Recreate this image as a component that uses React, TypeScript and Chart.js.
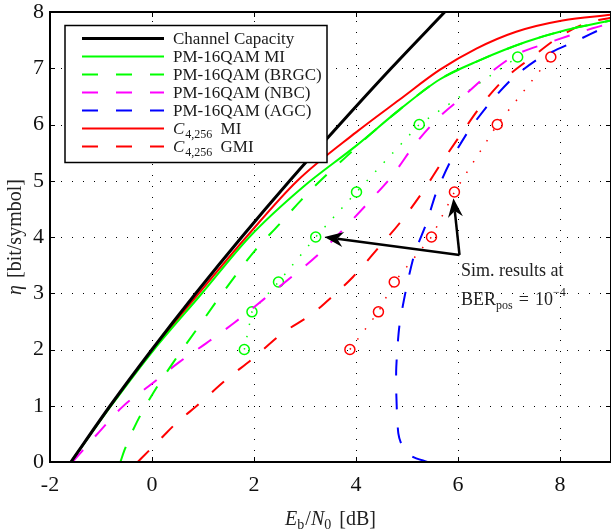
import React, { useEffect, useRef } from 'react';
import { Chart, registerables } from 'chart.js';
Chart.register(...registerables);

const xTicks = [-2, 0, 2, 4, 6, 8];
const xMax = 9;
const yTicks = [0, 1, 2, 3, 4, 5, 6, 7, 8];

const capacityX = [-1.59, -0.82, 0, 0.86, 1.76, 2.7, 3.68, 4.69, 5.74];
const capacityY = [0, 1, 2, 3, 4, 5, 6, 7, 8];

const qamMiX = [-1.59, -0.8, 0.04, 0.98, 1.91, 2.95, 4.0, 4.85, 5.64, 6.42, 7.34, 8.12, 9.0];
const qamMiY = [0, 1.0, 2.0, 3.0, 4.0, 4.88, 5.62, 6.26, 6.8, 7.14, 7.47, 7.68, 7.85];

const brgcX = [-0.62, -0.54, -0.34, -0.02, 0.47, 0.87, 1.26, 1.6, 2.01, 2.5, 2.93, 3.3, 3.8, 4.3, 4.85, 5.64, 6.42, 7.34, 8.12, 9.0];
const brgcY = [0, 0.21, 0.63, 1.16, 1.84, 2.35, 2.85, 3.27, 3.75, 4.23, 4.66, 5.0, 5.42, 5.84, 6.26, 6.8, 7.14, 7.47, 7.68, 7.85];

const nbcX = [-1.56, -1.03, -0.58, 0.01, 0.54, 1.06, 1.62, 2.2, 2.75, 3.25, 3.87, 4.32, 4.72, 5.15, 5.64, 6.09, 6.62, 7.14, 7.73, 8.64, 9.0];
const nbcY = [0, 0.54, 0.98, 1.4, 1.78, 2.11, 2.48, 2.9, 3.3, 3.68, 4.25, 4.69, 5.1, 5.64, 6.14, 6.49, 6.91, 7.24, 7.44, 7.71, 7.8];

const agcX = [5.4, 5.1, 4.92, 4.83, 4.79, 4.79, 4.85, 4.98, 5.15, 5.38, 5.57, 5.85, 6.21, 6.62, 7.07, 7.6, 8.35, 8.84, 9.0];
const agcY = [0, 0.1, 0.26, 0.51, 1.22, 1.69, 2.41, 3.06, 3.71, 4.24, 4.78, 5.34, 5.89, 6.38, 6.82, 7.18, 7.5, 7.71, 7.76];

const c4MiX = [-1.59, -0.81, 0.02, 0.92, 1.85, 2.85, 4.0, 4.85, 5.64, 6.36, 7.14, 8.05, 9.0];
const c4MiY = [0, 1, 2, 3, 4, 5, 5.86, 6.44, 6.97, 7.35, 7.65, 7.85, 7.95];

const c4GmiX = [-0.28, -0.05, 0.21, 0.44, 0.93, 1.45, 1.98, 2.56, 3.15, 3.42, 3.94, 4.46, 4.85, 5.29, 5.67, 6.06, 6.45, 6.89, 7.47, 7.99, 8.51, 9.0];
const c4GmiY = [0, 0.21, 0.45, 0.66, 1.04, 1.46, 1.84, 2.29, 2.64, 2.85, 3.29, 3.83, 4.24, 4.78, 5.31, 5.83, 6.33, 6.79, 7.21, 7.56, 7.8, 7.9];

const simRates = [2, 2.67, 3.2, 4, 4.8, 6, 7.2];
const simQamX = [1.81, 1.96, 2.48, 3.21, 4.01, 5.24, 7.17];
const simC4X = [3.88, 4.44, 4.75, 5.48, 5.93, 6.77, 7.82];

// annotation anchors (data coordinates)
const arrowFrom = { x: 6.03, y: 3.68 };
const arrowTips = [{ x: 3.38, y: 4.0 }, { x: 5.91, y: 4.69 }];
const noteAt = { x: 6.06, y1: 3.31, y2: 2.79 };

const SERIF = '"Liberation Serif", "Times New Roman", serif';
const GREEN = '#00ff00';
const MAGENTA = '#ff00ff';
const BLUE = '#0000ff';
const RED = '#ff0000';
const DASH = [16, 18];
const DOT = [1.5, 11];

const toPts = (xs: number[], ys: number[]) => xs.map((x, i) => ({ x, y: ys[i] }));

type Part = { t: string; size: number; italic?: boolean; dy?: number; dx?: number };
const fontOf = (p: Part) => `${p.italic ? 'italic ' : ''}${p.size}px ${SERIF}`;
function partsWidth(ctx: CanvasRenderingContext2D, parts: Part[]) {
  let w = 0;
  for (const p of parts) {
    ctx.font = fontOf(p);
    w += ctx.measureText(p.t).width + (p.dx || 0);
  }
  return w;
}
function drawParts(ctx: CanvasRenderingContext2D, parts: Part[], x: number, y: number) {
  let cx = x;
  ctx.textBaseline = 'alphabetic';
  ctx.textAlign = 'left';
  for (const p of parts) {
    ctx.font = fontOf(p);
    cx += p.dx || 0;
    ctx.fillText(p.t, cx, y + (p.dy || 0));
    cx += ctx.measureText(p.t).width;
  }
}

const legendItems: { ds: number; parts: Part[] }[] = [
  { ds: 0, parts: [{ t: 'Channel Capacity', size: 17 }] },
  { ds: 1, parts: [{ t: 'PM-16QAM MI', size: 17 }] },
  { ds: 2, parts: [{ t: 'PM-16QAM (BRGC)', size: 17 }] },
  { ds: 3, parts: [{ t: 'PM-16QAM (NBC)', size: 17 }] },
  { ds: 4, parts: [{ t: 'PM-16QAM (AGC)', size: 17 }] },
  { ds: 5, parts: [{ t: 'C', size: 17, italic: true }, { t: '4,256', size: 12, dy: 4, dx: 1 }, { t: ' MI', size: 17, dx: 4 }] },
  { ds: 6, parts: [{ t: 'C', size: 17, italic: true }, { t: '4,256', size: 12, dy: 4, dx: 1 }, { t: ' GMI', size: 17, dx: 4 }] },
];

function drawArrow(ctx: CanvasRenderingContext2D, x0: number, y0: number, x1: number, y1: number) {
  const ang = Math.atan2(y1 - y0, x1 - x0);
  const L = 19, W = 7.5, N = 13;
  const ux = Math.cos(ang), uy = Math.sin(ang);
  const px = -uy, py = ux;
  ctx.beginPath();
  ctx.moveTo(x0, y0);
  ctx.lineTo(x1 - ux * N, y1 - uy * N);
  ctx.stroke();
  ctx.beginPath();
  ctx.moveTo(x1, y1);
  ctx.lineTo(x1 - ux * L + px * W, y1 - uy * L + py * W);
  ctx.lineTo(x1 - ux * N, y1 - uy * N);
  ctx.lineTo(x1 - ux * L - px * W, y1 - uy * L - py * W);
  ctx.closePath();
  ctx.fill();
}

const decor = {
  id: 'decor',
  beforeDatasetsDraw(chart: any) {
    const { ctx, chartArea: a, scales } = chart;
    const x = scales.x, y = scales.y;
    ctx.save();
    ctx.strokeStyle = '#000';
    ctx.lineWidth = 1;
    ctx.setLineDash([1, 10]);
    xTicks.forEach((v) => {
      if (v === -2) return;
      const px = Math.round(x.getPixelForValue(v)) + 0.5;
      ctx.beginPath();
      ctx.moveTo(px, a.bottom);
      ctx.lineTo(px, a.top);
      ctx.stroke();
    });
    yTicks.forEach((v) => {
      if (v === 0 || v === 8) return;
      const py = Math.round(y.getPixelForValue(v)) + 0.5;
      ctx.beginPath();
      ctx.moveTo(a.left, py);
      ctx.lineTo(a.right, py);
      ctx.stroke();
    });
    ctx.restore();
  },
  afterDatasetsDraw(chart: any) {
    const { ctx, chartArea: a, scales } = chart;
    const x = scales.x, y = scales.y;
    ctx.save();
    ctx.strokeStyle = '#000';
    ctx.lineWidth = 1;
    ctx.setLineDash([]);
    xTicks.forEach((v) => {
      const px = Math.round(x.getPixelForValue(v)) + 0.5;
      ctx.beginPath();
      ctx.moveTo(px, a.bottom); ctx.lineTo(px, a.bottom - 5);
      ctx.moveTo(px, a.top); ctx.lineTo(px, a.top + 5);
      ctx.stroke();
    });
    yTicks.forEach((v) => {
      const py = Math.round(y.getPixelForValue(v)) + 0.5;
      ctx.beginPath();
      ctx.moveTo(a.left, py); ctx.lineTo(a.left + 5, py);
      ctx.moveTo(a.right, py); ctx.lineTo(a.right - 5, py);
      ctx.stroke();
    });
    ctx.lineWidth = 2;
    ctx.strokeRect(a.left, a.top, a.right - a.left, a.bottom - a.top);

    // tick labels
    ctx.fillStyle = '#111';
    ctx.font = `22px ${SERIF}`;
    ctx.textAlign = 'center';
    ctx.textBaseline = 'middle';
    xTicks.forEach((v) => {
      ctx.fillText(String(v), x.getPixelForValue(v), a.bottom + 23);
    });
    ctx.textAlign = 'right';
    yTicks.forEach((v) => {
      ctx.fillText(String(v), a.left - 6, y.getPixelForValue(v));
    });

    // legend
    const lx = a.left + 15, ly = a.top + 13.5, lw = 262, lh = 137;
    ctx.fillStyle = '#fff';
    ctx.fillRect(lx, ly, lw, lh);
    ctx.lineWidth = 1.5;
    ctx.strokeStyle = '#000';
    ctx.strokeRect(lx, ly, lw, lh);
    legendItems.forEach((it, i) => {
      const ds = chart.data.datasets[it.ds];
      const yc = ly + 13 + 18 * i;
      ctx.save();
      ctx.strokeStyle = ds.borderColor;
      ctx.lineWidth = ds.borderWidth;
      ctx.setLineDash(ds.borderDash || []);
      ctx.beginPath();
      ctx.moveTo(lx + 17, yc);
      ctx.lineTo(lx + 99, yc);
      ctx.stroke();
      ctx.restore();
      ctx.fillStyle = '#1a1a1a';
      drawParts(ctx, it.parts, lx + 108, yc + 5.5);
    });

    // arrows
    const ox = x.getPixelForValue(arrowFrom.x), oy = y.getPixelForValue(arrowFrom.y);
    ctx.strokeStyle = '#000';
    ctx.fillStyle = '#000';
    ctx.lineWidth = 2.5;
    arrowTips.forEach((t) => {
      drawArrow(ctx, ox, oy, x.getPixelForValue(t.x), y.getPixelForValue(t.y));
    });

    // note text
    ctx.fillStyle = '#222';
    const nx = x.getPixelForValue(noteAt.x);
    drawParts(ctx, [{ t: 'Sim. results at', size: 18 }], nx, y.getPixelForValue(noteAt.y1));
    drawParts(ctx, [
      { t: 'BER', size: 18 },
      { t: 'pos', size: 12, dy: 4 },
      { t: '=', size: 18, dx: 6 },
      { t: '10', size: 18, dx: 6 },
      { t: '\u22124', size: 12, dy: -9 },
    ], nx, y.getPixelForValue(noteAt.y2));

    // axis titles
    ctx.fillStyle = '#222';
    const xt: Part[] = [
      { t: 'E', size: 20, italic: true },
      { t: 'b', size: 14, dy: 4 },
      { t: '/', size: 20, dx: 1 },
      { t: 'N', size: 20, italic: true },
      { t: '0', size: 14, dy: 4 },
      { t: ' [dB]', size: 20, dx: 3 },
    ];
    const xw = partsWidth(ctx, xt);
    drawParts(ctx, xt, (a.left + a.right) / 2 - xw / 2, 525);

    const yt: Part[] = [
      { t: '\u03b7', size: 20, italic: true },
      { t: ' [bit/symbol]', size: 20, dx: 2 },
    ];
    const yw = partsWidth(ctx, yt);
    ctx.translate(21, (a.top + a.bottom) / 2);
    ctx.rotate(-Math.PI / 2);
    drawParts(ctx, yt, -yw / 2, 0);
    ctx.restore();
  },
};

export default function App() {
  const ref = useRef<HTMLCanvasElement | null>(null);
  useEffect(() => {
    if (!ref.current) return;
    const line = (label: string, xs: number[], ys: number[], color: string, width: number, dash: number[], mono = true) => ({
      label,
      data: toPts(xs, ys),
      borderColor: color,
      backgroundColor: color,
      borderWidth: width,
      borderDash: dash,
      pointRadius: 0,
      fill: false,
      cubicInterpolationMode: mono ? 'monotone' : 'default',
      tension: mono ? 0 : 0.25,
    });
    const sim = (label: string, xs: number[], color: string) => ({
      label,
      data: toPts(xs, simRates),
      borderColor: color,
      backgroundColor: 'rgba(0,0,0,0)',
      borderWidth: 1.5,
      borderDash: DOT,
      pointRadius: 5,
      pointStyle: 'circle',
      pointBorderColor: color,
      pointBackgroundColor: 'rgba(0,0,0,0)',
      pointBorderWidth: 1.5,
      fill: false,
      tension: 0,
    });
    const chart = new Chart(ref.current, {
      type: 'line',
      data: {
        datasets: [
          line('Channel Capacity', capacityX, capacityY, '#000', 3, []),
          line('PM-16QAM MI', qamMiX, qamMiY, GREEN, 2, []),
          line('PM-16QAM (BRGC)', brgcX, brgcY, GREEN, 2, DASH),
          line('PM-16QAM (NBC)', nbcX, nbcY, MAGENTA, 2, DASH),
          line('PM-16QAM (AGC)', agcX, agcY, BLUE, 2, DASH, false),
          line('C4,256 MI', c4MiX, c4MiY, RED, 2, []),
          line('C4,256 GMI', c4GmiX, c4GmiY, RED, 2, DASH),
          sim('PM-16QAM sim', simQamX, GREEN),
          sim('C4,256 sim', simC4X, RED),
        ] as any,
      },
      options: {
        animation: false,
        responsive: false,
        layout: { autoPadding: false, padding: { top: 12, right: 0, left: 0, bottom: 0 } },
        plugins: { legend: { display: false }, tooltip: { enabled: false } },
        scales: {
          x: {
            type: 'linear',
            min: -2,
            max: xMax,
            grid: { display: false, drawTicks: false },
            border: { display: false },
            afterBuildTicks: (s: any) => { s.ticks = xTicks.map((v) => ({ value: v })); },
            afterFit: (s: any) => { s.height = 70; s.paddingLeft = 0; s.paddingRight = 0; },
            ticks: { display: false },
          },
          y: {
            type: 'linear',
            min: 0,
            max: 8,
            grid: { display: false, drawTicks: false },
            border: { display: false },
            afterBuildTicks: (s: any) => { s.ticks = yTicks.map((v) => ({ value: v })); },
            afterFit: (s: any) => { s.width = 50; s.paddingTop = 0; s.paddingBottom = 0; },
            ticks: { display: false },
          },
        },
      } as any,
      plugins: [decor],
    });
    return () => chart.destroy();
  }, []);
  return (
    <div style={{ position: 'fixed', left: 0, top: 0, width: 611, height: 532, background: '#fff' }}>
      <canvas ref={ref} width={611} height={532} style={{ display: 'block', width: 611, height: 532 }} />
    </div>
  );
}
